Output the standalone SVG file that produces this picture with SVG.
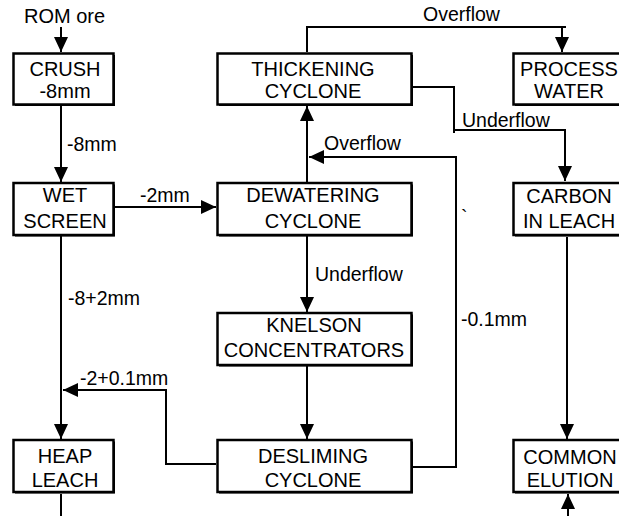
<svg xmlns="http://www.w3.org/2000/svg" width="619" height="516" viewBox="0 0 619 516">
<defs>
<marker id="ah" markerUnits="userSpaceOnUse" markerWidth="15" markerHeight="14" refX="15" refY="7" orient="auto">
<path d="M0,0 L15,7 L0,14 z" fill="#000"/>
</marker>
<style>
.sh{fill:#000}
.bx{fill:#fff;stroke:#000;stroke-width:2.5}
.t{font-family:"Liberation Sans",Arial,sans-serif;font-size:20px;fill:#000;text-anchor:middle}
.l{font-family:"Liberation Sans",Arial,sans-serif;font-size:19.5px;fill:#000}
.c{fill:none;stroke:#000;stroke-width:2}
.a{marker-end:url(#ah)}
</style>
</defs>
<rect width="619" height="516" fill="#fff"/>
<g id="connectors">
<line class="c a" x1="61" y1="27" x2="61" y2="52"/>
<line class="c a" x1="61" y1="106" x2="61" y2="182"/>
<line class="c a" x1="61" y1="236" x2="61" y2="439"/>
<line class="c a" x1="115" y1="207" x2="216" y2="207"/>
<polyline class="c a" points="216,464 166,464 166,390 63,390"/>
<line class="c a" x1="307" y1="182" x2="307" y2="106"/>
<line class="c a" x1="307" y1="236" x2="307" y2="312"/>
<line class="c a" x1="307" y1="366" x2="307" y2="439"/>
<polyline class="c a" points="413,467 456,467 456,157 309,157"/>
<polyline class="c" points="307,52 307,27 566,27"/>
<line class="c a" x1="562" y1="27" x2="562" y2="52"/>
<polyline class="c" points="413,87 454,87 454,133"/>
<polyline class="c a" points="454,130 565,130 565,181"/>
<line class="c a" x1="567" y1="237" x2="567" y2="439"/>
<line class="c" x1="61" y1="494" x2="61" y2="516"/>
<line class="c a" x1="568" y1="516" x2="568" y2="494"/>
</g>
<g id="labels">
<text class="l" x="24" y="23" style="font-size:20px">ROM ore</text>
<text class="l" x="67" y="151">-8mm</text>
<text class="l" x="140" y="202">-2mm</text>
<text class="l" x="68" y="305">-8+2mm</text>
<text class="l" x="80" y="385">-2+0.1mm</text>
<text class="l" x="423" y="21">Overflow</text>
<text class="l" x="462" y="127">Underflow</text>
<text class="l" x="324" y="150">Overflow</text>
<text class="l" x="315" y="281">Underflow</text>
<text class="l" x="461" y="326">-0.1mm</text>
<text class="l" x="461" y="224">`</text>
</g>
<g id="crush">
<rect class="sh" x="15" y="55" width="100" height="51"/>
<rect class="bx" x="13.5" y="53.5" width="100" height="51"/>
<text class="t" x="65" y="76">CRUSH</text>
<text class="t" x="65" y="98">-8mm</text>
</g>
<g id="wet-screen">
<rect class="sh" x="15" y="184.5" width="100" height="52"/>
<rect class="bx" x="13.5" y="183" width="100" height="52"/>
<text class="t" x="65" y="202">WET</text>
<text class="t" x="65" y="228">SCREEN</text>
</g>
<g id="heap-leach">
<rect class="sh" x="15" y="441.5" width="100" height="52"/>
<rect class="bx" x="13.5" y="440" width="100" height="52"/>
<text class="t" x="65" y="463">HEAP</text>
<text class="t" x="65" y="487">LEACH</text>
</g>
<g id="thickening-cyclone">
<rect class="sh" x="219" y="55" width="194" height="51"/>
<rect class="bx" x="217.5" y="53.5" width="194" height="51"/>
<text class="t" x="313" y="76">THICKENING</text>
<text class="t" x="313" y="98">CYCLONE</text>
</g>
<g id="dewatering-cyclone">
<rect class="sh" x="219" y="184.5" width="194" height="52"/>
<rect class="bx" x="217.5" y="183" width="194" height="52"/>
<text class="t" x="313" y="202">DEWATERING</text>
<text class="t" x="313" y="228">CYCLONE</text>
</g>
<g id="knelson-concentrators">
<rect class="sh" x="219" y="314.5" width="194" height="52"/>
<rect class="bx" x="217.5" y="313" width="194" height="52"/>
<text class="t" x="314" y="332">KNELSON</text>
<text class="t" x="314" y="357">CONCENTRATORS</text>
</g>
<g id="desliming-cyclone">
<rect class="sh" x="219" y="441.5" width="194" height="52"/>
<rect class="bx" x="217.5" y="440" width="194" height="52"/>
<text class="t" x="313" y="463">DESLIMING</text>
<text class="t" x="313" y="487">CYCLONE</text>
</g>
<g id="process-water">
<rect class="sh" x="515" y="55" width="112" height="51"/>
<rect class="bx" x="513.5" y="53.5" width="112" height="51"/>
<text class="t" x="569" y="76">PROCESS</text>
<text class="t" x="569" y="98">WATER</text>
</g>
<g id="carbon-in-leach">
<rect class="sh" x="515" y="184.5" width="112" height="52"/>
<rect class="bx" x="513.5" y="183" width="112" height="52"/>
<text class="t" x="569" y="203">CARBON</text>
<text class="t" x="569" y="228">IN LEACH</text>
</g>
<g id="common-elution">
<rect class="sh" x="515" y="441.5" width="112" height="52"/>
<rect class="bx" x="513.5" y="440" width="112" height="52"/>
<text class="t" x="570" y="464">COMMON</text>
<text class="t" x="570" y="487">ELUTION</text>
</g>
</svg>
